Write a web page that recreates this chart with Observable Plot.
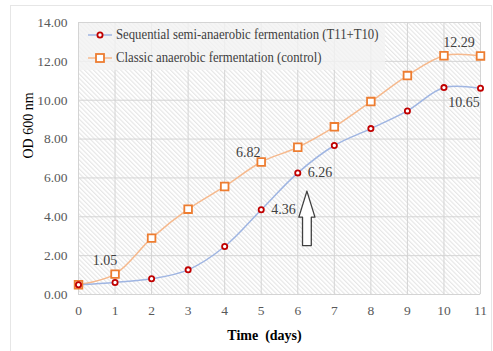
<!DOCTYPE html>
<html><head><meta charset="utf-8">
<script src="https://cdn.jsdelivr.net/npm/d3@7"></script>
<script src="https://cdn.jsdelivr.net/npm/@observablehq/plot@0.6"></script>
<style>
body{margin:0;background:#fff;font-family:"Liberation Serif","Times New Roman",serif;}
#wrap{position:relative;width:493px;height:351px;overflow:hidden}
#wrap svg text{font-family:"Liberation Serif","Times New Roman",serif}
#border{position:absolute;left:10px;top:5px;width:480px;height:400px;border:1px solid #e6e6e6;pointer-events:none}
#legend{position:absolute;left:79px;top:23px;width:306px;height:47px;background:rgba(242,242,242,0.8);font-size:14px;color:#404040}
.row{position:absolute;left:9px;height:20px;display:flex;align-items:center;white-space:nowrap}
.row svg{margin-right:4px;flex:none}
.row span{display:inline-block;transform:scaleX(0.91);transform-origin:left center}
</style></head>
<body><div id="wrap"><div id="border"></div></div>
<script>
const days = [0,1,2,3,4,5,6,7,8,9,10,11];
const sequential = [0.50,0.62,0.81,1.27,2.47,4.36,6.26,7.67,8.54,9.45,10.65,10.62];
const classic = [0.50,1.05,2.90,4.39,5.56,6.82,7.58,8.63,9.93,11.27,12.29,12.28];
const seriesNames = ["Sequential semi-anaerobic fermentation (T11+T10)", "Classic anaerobic fermentation (control)"];
const yTicks = [0,2,4,6,8,10,12,14];
const xTicks = days;
const xTitle = "Time  (days)";
const yTitle = "OD 600 nm";
// arrow annotation outline, in data units (day, OD)
const arrowX = [6.25,6.47,6.37,6.37,6.13,6.13,6.03,6.25];
const arrowY = [5.32,3.98,3.98,2.52,2.52,3.98,3.98,5.32];

const FONT = "Liberation Serif, Times New Roman, serif";
const seqColor = "#9fb5e2", seqMarker = "#c00000";
const clsColor = "#f6b98d", clsMarker = "#ed7d31";

const seq = days.map((d,i)=>({day:d, od:sequential[i]}));
const cls = days.map((d,i)=>({day:d, od:classic[i]}));
const arrow = arrowX.map((x,i)=>({x, y:arrowY[i]}));
const fmt = d3.format(".2f");
const lab = (arr, day) => arr.filter(d => d.day === day);
const txt = {x:"day", y:"od", text:d=>fmt(d.od), fill:"#404040", fontSize:14, fontFamily:FONT};

const chart = Plot.plot({
  width:493, height:351, marginLeft:78, marginRight:13, marginTop:22, marginBottom:57,
  style:{fontFamily:FONT, fontSize:"14px", background:"transparent", overflow:"visible"},
  x:{domain:[0,11]},
  y:{domain:[0,14]},
  marks:[
    Plot.frame({fill:"url(#hatch)", stroke:null}),
    Plot.gridX(xTicks,{stroke:"#d4d4d4", strokeOpacity:1}),
    Plot.gridY(yTicks,{stroke:"#d4d4d4", strokeOpacity:1}),
    Plot.axisX(xTicks,{tickSize:0, tickPadding:11, fill:"#595959", fontSize:13.5, fontFamily:FONT, label:null, tickFormat:d=>String(d)}),
    Plot.axisY(yTicks,{tickSize:0, tickPadding:11, fill:"#595959", fontSize:13.5, fontFamily:FONT, label:null, tickFormat:fmt}),
    Plot.line(arrow,{x:"x", y:"y", fill:"white", stroke:"#404040", strokeWidth:1.3, curve:"linear"}),
    Plot.line(cls,{x:"day", y:"od", stroke:clsColor, strokeWidth:1.5, curve:"catmull-rom"}),
    Plot.line(seq,{x:"day", y:"od", stroke:seqColor, strokeWidth:1.5, curve:"catmull-rom"}),
    Plot.dot(cls,{x:"day", y:"od", symbol:"square", r:4.3, stroke:clsMarker, strokeWidth:1.8, fill:"white"}),
    Plot.dot(seq,{x:"day", y:"od", r:2.6, stroke:seqMarker, strokeWidth:1.8, fill:"white"}),
    Plot.text(lab(cls,1),{...txt, dx:-10, dy:-14}),
    Plot.text(lab(cls,5),{...txt, dx:-13, dy:-9}),
    Plot.text(lab(cls,10),{...txt, dx:15, dy:-13}),
    Plot.text(lab(seq,10),{...txt, dx:20, dy:15}),
    Plot.text(lab(seq,6),{...txt, textAnchor:"start", dx:10}),
    Plot.text(lab(seq,5),{...txt, textAnchor:"start", dx:10}),
    Plot.text([xTitle],{frameAnchor:"bottom", dy:45, dx:-15, fontWeight:"bold", fontSize:14, fontFamily:FONT, fill:"#000"}),
    Plot.text([yTitle],{frameAnchor:"left", dx:-50, rotate:-90, fontSize:14, fontFamily:FONT, fill:"#000"})
  ]
});

const defs = d3.select(chart).insert("defs", ":first-child");
const pat = defs.append("pattern").attr("id","hatch").attr("patternUnits","userSpaceOnUse")
  .attr("width",3.2).attr("height",3.2).attr("patternTransform","rotate(-45)");
pat.append("rect").attr("width",3.2).attr("height",3.2).attr("fill","#ffffff");
pat.append("line").attr("x1",0.6).attr("y1",0).attr("x2",0.6).attr("y2",3.2).attr("stroke","#e3e3e3").attr("stroke-width",1);

const wrap = document.getElementById("wrap");
wrap.insertBefore(chart, wrap.firstChild);

const legend = document.createElement("div");
legend.id = "legend";
const sw = (lc, mc, sq) => `<svg width="24" height="12"><line x1="0" x2="24" y1="6" y2="6" stroke="${lc}" stroke-width="1.5"/>` +
  (sq ? `<rect x="8" y="2" width="8" height="8" fill="white" stroke="${mc}" stroke-width="1.8"/>` : `<circle cx="12" cy="6" r="2.6" fill="white" stroke="${mc}" stroke-width="1.8"/>`) + `</svg>`;
legend.innerHTML = `<div class="row" style="top:2px">${sw(seqColor,seqMarker,false)}<span>${seriesNames[0]}</span></div>` +
  `<div class="row" style="top:25px">${sw(clsColor,clsMarker,true)}<span>${seriesNames[1]}</span></div>`;
wrap.appendChild(legend);
</script>
</body></html>
